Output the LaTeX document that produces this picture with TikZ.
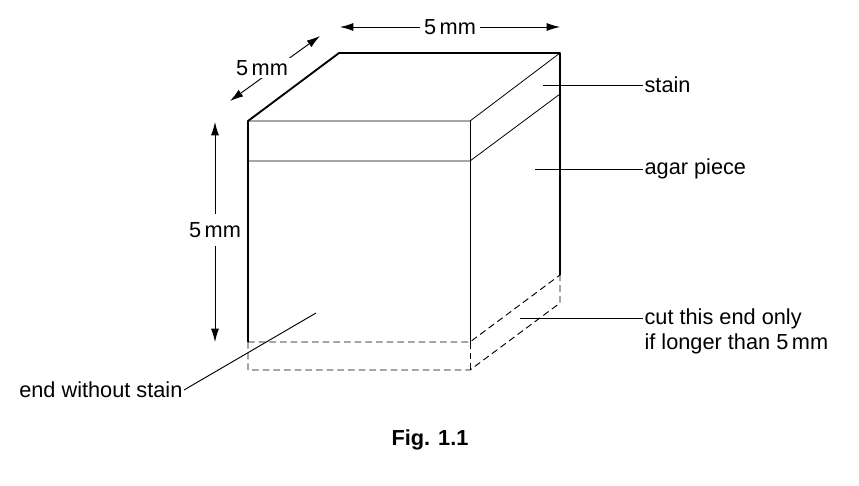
\documentclass[tikz,border=0pt]{standalone}
\usepackage{fontspec}
\setmainfont{Liberation Sans}
\usetikzlibrary{arrows.meta}
\begin{document}
\begin{tikzpicture}[x=0.75pt,y=-0.75pt,
  thick/.style={line width=1.4pt},
  thin/.style={line width=0.6pt},
  dsh/.style={line width=0.7pt,dash pattern=on 5pt off 3pt},
  dim/.style={line width=0.7pt,{Latex[length=10pt,width=6pt]}-{Latex[length=10pt,width=6pt]}},
  lead/.style={line width=0.7pt},
  lbl/.style={font=\fontsize{16.3}{19}\selectfont,inner sep=1pt}]
\useasboundingbox (0,0) rectangle (859,485);
\coordinate (ftl) at (248,121); \coordinate (ftr) at (470,121);
\coordinate (btl) at (339,53); \coordinate (btr) at (560,53);
\coordinate (fsl) at (248,161); \coordinate (fsr) at (470,161); \coordinate (bsr) at (560,94);
\coordinate (fbl) at (248,342); \coordinate (fbr) at (470,342); \coordinate (bbr) at (560,275);
\coordinate (fcl) at (248,370); \coordinate (fcr) at (470,370); \coordinate (bcr) at (560,303);
\draw[thick,line join=round] (fbl) -- (ftl) -- (btl) -- (btr) -- (bbr);
\draw[thin] (ftl) -- (ftr) -- (btr);
\draw[thin] (fsl) -- (fsr) -- (bsr);
\draw[thin] (ftr) -- (fbr);
\draw[dsh] (fbl) -- (fbr) -- (bbr);
\draw[dsh] (fbl) -- (fcl) -- (fcr) -- (bcr) -- (bbr);
\draw[dsh] (fbr) -- (fcr);
% dimensions
\coordinate (dtl) at (340,27); \coordinate (dtr) at (560,27);
\draw[dim] (dtl) -- (dtr);
\node[lbl,fill=white,inner xsep=3pt] (dt) at (450,27) {5\,mm};
\coordinate (dd1) at (230,101); \coordinate (dd2) at (320,36);
\draw[dim] (dd1) -- (dd2);
\node[lbl,fill=white,inner sep=2pt] (dl) at (262,68) {5\,mm};
\coordinate (dv1) at (215,122); \coordinate (dv2) at (215,342);
\draw[dim] (dv1) -- (dv2);
\node[lbl,fill=white,inner xsep=1pt,inner ysep=6pt] (dvl) at (215,230) {5\,mm};
% leaders
\coordinate (s1) at (543,85); \node[lbl,anchor=west] (st) at (643,85) {stain};
\draw[lead] (s1) -- (st.west);
\coordinate (a1) at (535,169); \node[lbl,anchor=west] (ag) at (643,169) {agar piece};
\draw[lead] (a1) -- (ag.west);
\coordinate (c1) at (520,318); \coordinate (c2) at (643,318);
\node[lbl,anchor=north west,align=left] (ct) at (643,307) {cut this end only\\if longer than 5\,mm};
\draw[lead] (c1) -- (c2);
\coordinate (e1) at (316,313);
\node[lbl,anchor=east] (et) at (184,390) {end without stain};
\draw[lead] (e1) -- (et.east);
\node[lbl,font=\fontsize{16.3}{19}\selectfont\bfseries] (fig) at (430,440) {Fig. 1.1};
\end{tikzpicture}
\end{document}
